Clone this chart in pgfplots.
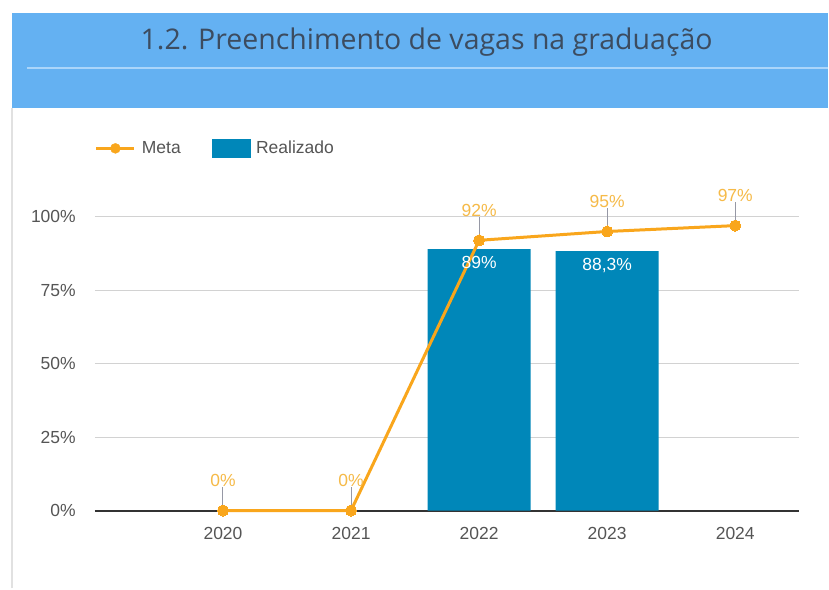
\documentclass[border=0pt]{standalone}
\usepackage{pgfplots}
\pgfplotsset{compat=1.18}
\usepackage{fontspec}
\setmainfont{Liberation Sans}
\newfontfamily\titlefont{Open Sans}
\definecolor{hdr}{RGB}{100,177,242}
\definecolor{hdrline}{RGB}{170,213,250}
\definecolor{border}{RGB}{225,225,225}
\definecolor{titlec}{RGB}{60,76,96}
\definecolor{barc}{RGB}{0,135,185}
\definecolor{linec}{RGB}{249,166,28}
\definecolor{lblc}{RGB}{246,186,72}
\definecolor{tickc}{RGB}{85,85,85}
\definecolor{gridc}{RGB}{210,210,210}
\definecolor{basec}{RGB}{51,51,51}
\definecolor{stemc}{RGB}{150,152,165}
\begin{document}
\begin{tikzpicture}[x=1pt,y=1pt]
\path[fill=white] (0,0) rectangle (829,589);
\fill[hdr] (12,481) rectangle (829,576);
\draw[hdrline, line width=1.5pt] (27,521) -- (829,521);
\draw[border, line width=1.5pt] (12,0) -- (12,481);
\node[anchor=base, font=\titlefont\fontsize{28.5}{32}\selectfont, text=titlec, inner sep=0pt] at (427,539) {1.2. Preenchimento de vagas na graduação};
\begin{axis}[
  at={(95pt,78pt)}, anchor=south west,
  width=705pt, height=294pt, scale only axis,
  xmin=-1, xmax=4.5, ymin=0, ymax=100,
  clip=false,
  axis line style={draw=none},
  major tick length=0pt,
  tick style={draw=none},
  ytick={0,25,50,75,100},
  yticklabels={0\%,25\%,50\%,75\%,100\%},
  xtick={0,1,2,3,4},
  xticklabels={2020,2021,2022,2023,2024},
  ymajorgrids,
  grid style={gridc, line width=1pt},
  extra y ticks={0},
  extra y tick labels={},
  extra y tick style={grid style={basec, line width=2pt}},
  y tick label style={font=\fontsize{17.5}{20}\selectfont, text=tickc, inner sep=0pt, anchor=east, xshift=-19pt},
  x tick label style={font=\fontsize{17.5}{20}\selectfont, text=tickc, inner sep=0pt, anchor=north, yshift=-17pt},
  legend style={draw=none, fill=none, inner sep=0pt, outer sep=0pt,
    at={(axis description cs:0,1.233)}, anchor=west,
    font=\fontsize{17.5}{20}\selectfont, text=tickc,
    /tikz/every odd column/.append style={column sep=6pt},
    /tikz/every even column/.append style={column sep=31pt},
    nodes={inner sep=0pt}},
  legend columns=-1,
]
\addlegendimage{legend image code/.code={\draw[linec, line width=3pt] (0pt,0pt) -- (38pt,0pt); \fill[linec] (19pt,0pt) circle (5pt);}}
\addlegendentry{Meta}
\addlegendimage{legend image code/.code={\fill[barc] (0pt,-9pt) rectangle (38pt,9pt);}}
\addlegendentry{Realizado}
\addplot[forget plot, ybar, bar width=103pt, fill=barc, draw=none,
  nodes near coords, point meta=explicit symbolic,
  every node near coord/.append style={anchor=north, text=white, inner sep=0pt, yshift=-7pt, font=\fontsize{17.5}{20}\selectfont}]
  coordinates {(2,89) [89\%] (3,88.3) [88,3\%]};
\addplot[forget plot, color=linec, line width=3pt, mark=*, mark size=5.5pt,
  mark options={fill=linec, draw=linec, line width=0pt},
  nodes near coords, point meta=explicit symbolic,
  every node near coord/.append style={anchor=south, text=lblc, inner sep=0pt, yshift=24pt, font=\fontsize{17.5}{20}\selectfont},
  error bars/.cd, y dir=plus, y fixed=8, error mark=none,
  error bar style={stemc, line width=1pt}]
  coordinates {(0,0) [0\%] (1,0) [0\%] (2,92) [92\%] (3,95) [95\%] (4,97) [97\%]};
\end{axis}
\end{tikzpicture}
\end{document}
